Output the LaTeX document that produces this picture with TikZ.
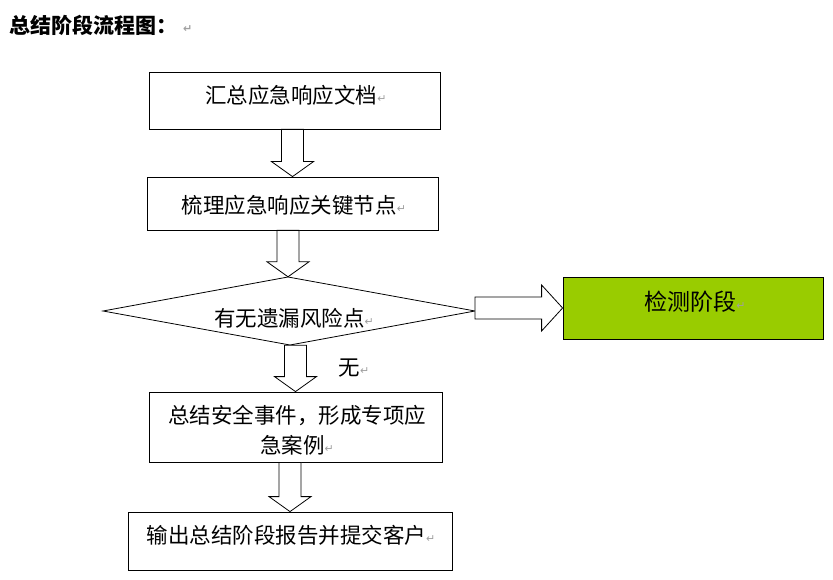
\documentclass[tikz,border=0pt]{standalone}
\usepackage{fontspec}
\usetikzlibrary{calc}
\newfontfamily\cjk{Noto Sans CJK SC}
\newfontfamily\dejavu{DejaVu Sans}
\definecolor{retgray}{HTML}{A0A0A0}
\definecolor{stagegreen}{HTML}{99CC00}
\newcommand\pmark{{\color{retgray}\fontsize{11}{11}\selectfont\dejavu\raisebox{1pt}{↵}}}
\tikzset{
  box/.style={draw=black, line width=0.8pt, fill=white, inner sep=0pt},
  txt/.style={inner sep=0pt, font=\cjk\fontsize{21.5}{30}\selectfont, text=black, align=center},
  blockarrow/.style={draw=black, line width=0.8pt, fill=white, line join=miter},
}
\newcommand\downblk[2]{%
  \draw[blockarrow] let \p1=(#2.north), \p2=(#1.south) in
    (\x1-11pt,\y2) -- (\x1-11pt,\y1+15pt) -- (\x1-21pt,\y1+15pt) -- (\x1,\y1)
    -- (\x1+21pt,\y1+15pt) -- (\x1+11pt,\y1+15pt) -- (\x1+11pt,\y2) -- cycle;}
\begin{document}
\begin{tikzpicture}[x=1pt,y=-1pt]
\useasboundingbox[fill=white] (0,0) rectangle (833,580);
% title
\node[txt, anchor=west, font=\cjk\bfseries\fontsize{21}{24}\selectfont] (title) at (9,25) {总结阶段流程图：\hspace{6pt}\pmark};
% boxes
\node[box, minimum width=291, minimum height=57] (b1) at (294.5,100.5) {};
\node[txt] (t1) at (296,95) {汇总应急响应文档\pmark};
\node[box, minimum width=291, minimum height=53] (b2) at (292.5,203.5) {};
\node[txt] (t2) at (294,205) {梳理应急响应关键节点\pmark};
\coordinate (dl) at (103,311);
\coordinate (dr) at (475,311);
\coordinate (dt) at (288,277);
\coordinate (db) at (290,345);
\path[draw=black, line width=0.8pt, fill=white] (dl) -- (dt) -- (dr) -- (db) -- cycle;
\node[inner sep=0pt, minimum size=0pt] (dtop) at (dt) {};
\node[inner sep=0pt, minimum size=0pt] (dbot) at (db) {};
\node[inner sep=0pt, minimum size=0pt] (dright) at (dr) {};
\node[txt] (t3) at (294,318) {有无遗漏风险点\pmark};
\node[box, fill=stagegreen, minimum width=260, minimum height=62] (g) at (693,308) {};
\node[txt, font=\cjk\fontsize{23}{30}\selectfont] (tg) at (695,302) {检测阶段\pmark};
\node[box, minimum width=293, minimum height=70] (b3) at (295.5,427) {};
\node[txt] (t4) at (297,430) {总结安全事件，形成专项应\\急案例\pmark};
\node[box, minimum width=324, minimum height=58] (b4) at (290,541) {};
\node[txt] (t5) at (291,535) {输出总结阶段报告并提交客户\pmark};
\node[txt] (lno) at (354,368) {无\pmark};
% connectors
\downblk{b1}{b2}
\downblk{b2}{dtop}
\draw[blockarrow] let \p1=(dright), \p2=(g.west) in
  (\x1,\y2+11pt) -- (\x2-21pt,\y2+11pt) -- (\x2-21pt,\y2+23pt) -- (\x2,\y2)
  -- (\x2-21pt,\y2-23pt) -- (\x2-21pt,\y2-11pt) -- (\x1,\y2-11pt) -- cycle;
\downblk{dbot}{b3}
\downblk{b3}{b4}
\end{tikzpicture}
\end{document}
